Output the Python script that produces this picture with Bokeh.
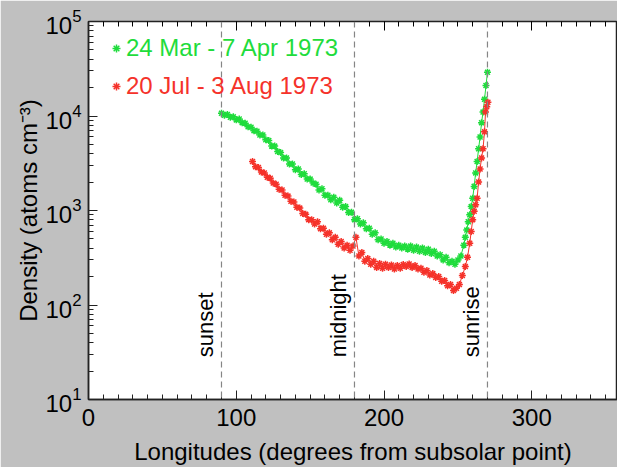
import math
from bokeh.plotting import figure
from bokeh.models import (LinearAxis, Range1d, Span, Legend, LegendItem,
                          SingleIntervalTicker, CustomJSTickFormatter)
from bokeh.core.properties import value
from bokeh.embed import file_html
from bokeh.resources import INLINE

# ---------------- data ----------------
series_labels = ["24 Mar - 7 Apr 1973", "20 Jul - 3 Aug 1973"]

green_lon = [90, 92, 94, 96, 98, 100, 102, 104, 106, 108, 110, 112, 114, 116, 118,
             120, 122, 124, 126, 128, 130, 132, 134, 136, 138, 140, 142, 144, 146,
             148, 150, 152, 154, 156, 158, 160, 162, 164, 166, 168, 170, 172, 174,
             176, 178, 180, 182, 184, 186, 188, 190, 192, 194, 196, 198, 200, 202,
             204, 206, 208, 210, 212, 214, 216, 218, 220, 222, 224, 226, 228, 230,
             232, 234, 236, 238, 240, 242, 244, 246, 248, 250, 252, 254, 255, 256,
             257, 258, 259, 260, 261, 262, 263, 264, 265, 266, 267, 268, 269, 270]
green_den = [10700, 10200, 10400, 9700, 9800, 9100, 9300, 8500, 8400, 7700, 7600,
             7000, 6900, 6300, 6300, 5600, 5500, 4800, 4800, 4200, 4100, 3600, 3600,
             3100, 3100, 2700, 2750, 2400, 2450, 2150, 2150, 1950, 1900, 1650, 1700,
             1450, 1450, 1300, 1380, 1200, 1280, 1080, 1100, 950, 960, 800, 820, 720,
             740, 640, 650, 560, 580, 490, 500, 450, 470, 430, 450, 410, 430, 400,
             420, 390, 420, 380, 410, 370, 400, 360, 390, 350, 370, 330, 340, 300,
             320, 280, 290, 270, 300, 330, 430, 520, 620, 760, 900, 1100, 1350, 1800,
             2500, 3300, 4500, 6000, 8500, 11000, 15000, 21000, 29000]

red_lon = [111, 113, 115, 117, 119, 121, 123, 125, 127, 129, 131, 133, 135, 137, 139,
           141, 143, 145, 147, 149, 151, 153, 155, 157, 159, 161, 163, 165, 167, 169,
           171, 173, 175, 177, 179, 181, 183, 185, 187, 189, 191, 193, 195, 197, 199,
           201, 203, 205, 207, 209, 211, 213, 215, 217, 219, 221, 223, 225, 227, 229,
           231, 233, 235, 237, 239, 241, 243, 245, 247, 249, 251, 253, 255, 256.5,
           258, 259, 260, 261, 262, 263, 264, 265, 266, 267, 268, 268.7, 269.5, 270.3]
red_den = [3300, 2900, 2850, 2550, 2500, 2250, 2200, 1950, 1900, 1680, 1650, 1450,
           1420, 1250, 1230, 1080, 1060, 930, 910, 800, 800, 720, 760, 640, 650, 560,
           580, 490, 520, 440, 470, 400, 430, 380, 420, 520, 330, 360, 290, 310, 270,
           290, 250, 275, 245, 270, 250, 265, 240, 262, 245, 268, 255, 272, 250, 262,
           240, 245, 222, 232, 208, 215, 195, 200, 178, 182, 160, 165, 142, 150, 165,
           205, 255, 320, 450, 600, 800, 980, 1150, 1350, 2000, 2750, 3600, 4500,
           6800, 11000, 12500, 14000]

x_tick_step = 100
event_lon = [90, 180, 270]
event_names = ["sunset", "midnight", "sunrise"]
event_label_den = [28, 28, 28]

# ---------------- styling ----------------
FONT = "Liberation Sans"
GREEN = "#1fdc3c"
RED = "#f5322a"
BG = "#c0c0c0"

p = figure(width=617, height=467,
           x_range=Range1d(0, 358), y_range=Range1d(10, 1e5),
           y_axis_type="log",
           output_backend="svg", toolbar_location=None,
           min_border_left=88, min_border_right=0,
           min_border_top=21, min_border_bottom=67,
           background_fill_color="white", border_fill_color=BG,
           outline_line_color="#222222", outline_line_width=1.5)
p.grid.visible = False

xt = SingleIntervalTicker(interval=x_tick_step, num_minor_ticks=10)
p.xaxis.ticker = xt

for ax in p.xaxis + p.yaxis:
    ax.major_label_text_font = FONT
    ax.major_label_text_font_size = "24px"
    ax.major_label_text_color = "black"
    ax.axis_label_text_font = FONT
    ax.axis_label_text_font_size = "24px"
    ax.axis_label_text_font_style = "normal"
    ax.axis_label_text_color = "black"
    ax.axis_line_color = "#222222"
    ax.axis_line_width = 1.5
    ax.major_tick_in = 9
    ax.major_tick_out = 0
    ax.minor_tick_in = 5
    ax.minor_tick_out = 0
    ax.major_tick_line_color = "#222222"
    ax.minor_tick_line_color = "#222222"

p.xaxis.axis_label = "Longitudes (degrees from subsolar point)"
p.xaxis.major_label_standoff = 9
p.xaxis.axis_label_standoff = 9
p.yaxis.axis_label = "Density (atoms cm\u207b\u00b3)"
p.yaxis.major_label_standoff = 7
p.yaxis.axis_label_standoff = 0

top = LinearAxis(ticker=SingleIntervalTicker(interval=x_tick_step, num_minor_ticks=10),
                 formatter=CustomJSTickFormatter(code="return ''"),
                 axis_line_color="#222222",
                 major_tick_in=9, major_tick_out=0, minor_tick_in=5, minor_tick_out=0,
                 major_label_standoff=0)
p.add_layout(top, "above")

for lon in event_lon:
    p.add_layout(Span(location=lon, dimension="height", line_color="#858585",
                      line_dash="6 4", line_width=1.2))

p.text(x=event_lon, y=event_label_den, text=event_names, angle=math.pi / 2,
       text_font=value(FONT), text_font_size="22px", text_color="black",
       text_align="left", text_baseline="bottom", x_offset=-3)

p.line(green_lon, green_den, line_color=GREEN, line_width=1)
g_sc = p.scatter(green_lon, green_den, marker="asterisk", size=7,
                 line_color=GREEN, line_width=1.5)
p.line(red_lon, red_den, line_color=RED, line_width=1)
r_sc = p.scatter(red_lon, red_den, marker="asterisk", size=7,
                 line_color=RED, line_width=1.5)

for label, rend, color, loc in [(series_labels[0], g_sc, GREEN, (18, 337)),
                                (series_labels[1], r_sc, RED, (18, 299))]:
    leg = Legend(items=[LegendItem(label=label, renderers=[rend])], location=loc,
                 label_text_font=FONT, label_text_font_size="24px",
                 label_text_color=color, glyph_width=20, glyph_height=20,
                 label_standoff=0, label_height=24, padding=0, margin=0, spacing=0,
                 border_line_color=None, background_fill_alpha=0)
    p.add_layout(leg)

open("out.html", "w").write(file_html(p, INLINE))
